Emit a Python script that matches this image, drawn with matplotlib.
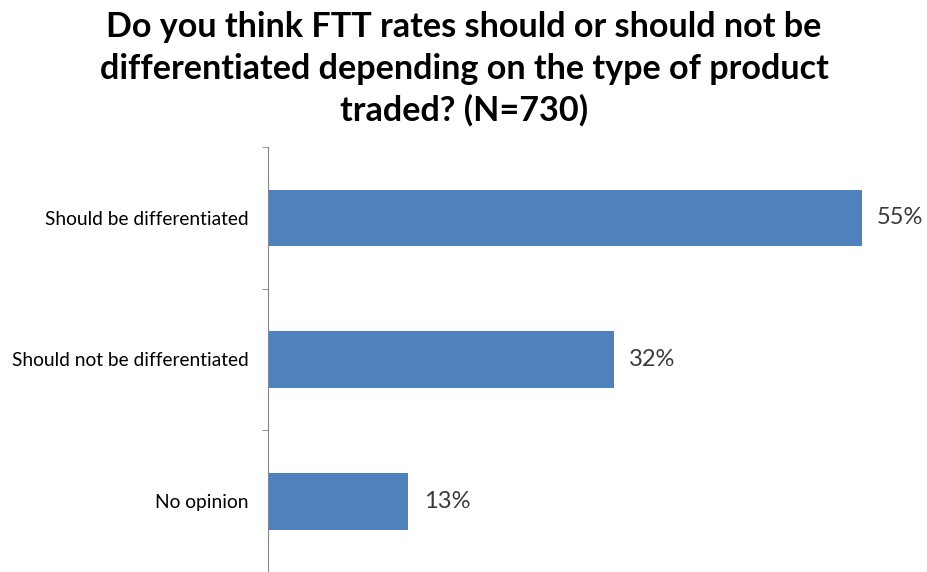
import matplotlib
matplotlib.use("Agg")
import matplotlib.pyplot as plt

categories = ["Should be differentiated", "Should not be differentiated", "No opinion"]
values = [55, 32, 13]
value_labels = ["55%", "32%", "13%"]
title = ("Do you think FTT rates should or should not be\n"
         "differentiated depending on the type of product\n"
         "traded? (N=730)")

plt.rcParams['font.family'] = ['Lato', 'DejaVu Sans']

fig = plt.figure(figsize=(9.28, 5.72), dpi=100)
W, H = 928, 572
# axes from spine at x=268 down from y=147 to the bottom edge
ax = fig.add_axes([268 / W, 0, 648 / W, (572 - 147) / H])

pos = list(range(len(categories)))
ax.barh(pos, values, height=0.4, color="#4F81BD")
for p, v, lab in zip(pos, values, value_labels):
    ax.text(v + 1.4, p, lab, va="center", ha="left", fontsize=17, color="#3a3a3a")

ax.set_xlim(0, 60)
ax.set_ylim(2.49, -0.5)

ax.set_yticks(pos)
ax.set_yticklabels(categories, fontsize=13.8, color="black")
ax.tick_params(axis="y", which="major", length=0, pad=14)
ax.set_yticks([-0.5, 0.5, 1.5, 2.5], minor=True)
ax.tick_params(axis="y", which="minor", length=4, color="#868686", direction="out")

ax.set_xticks([])
for s in ["top", "right", "bottom"]:
    ax.spines[s].set_visible(False)
ax.spines["left"].set_color("#868686")

fig.text(0.5, 0.98, title, ha="center", va="top", fontsize=24.6, fontweight="bold",
         linespacing=1.36)

fig.savefig("out.png", dpi=100)
